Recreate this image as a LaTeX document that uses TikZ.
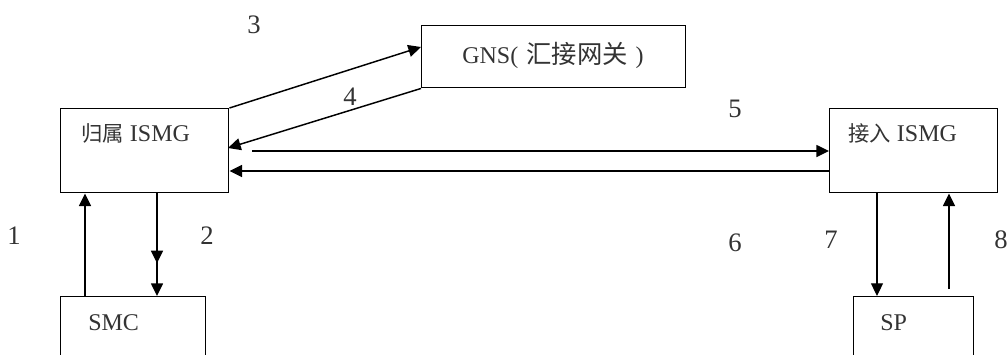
\documentclass[tikz,border=0pt]{standalone}
\usepackage{fontspec}
\setmainfont{Liberation Serif}
\newfontfamily\cjk{Noto Sans CJK SC}
\usetikzlibrary{arrows.meta}
\begin{document}
\begin{tikzpicture}[x=0.75pt,y=-0.75pt,
  box/.style={draw,line width=1.1pt,inner sep=0pt,anchor=north west},
  conn/.style={line width=1.1pt,-{Triangle[length=9.5pt,width=9pt]}},
  txt/.style={font=\fontsize{18pt}{20pt}\selectfont,text=black!80,inner sep=0pt},
  num/.style={font=\fontsize{20pt}{22pt}\selectfont,text=black!80,inner sep=0pt}]
\useasboundingbox (0,0) rectangle (1007,354);
% boxes
\node[box,minimum width=168*0.75pt,minimum height=84*0.75pt] (home) at (60,108) {};
\node[box,minimum width=264*0.75pt,minimum height=62*0.75pt] (gns) at (421,25) {};
\node[box,minimum width=168*0.75pt,minimum height=84*0.75pt] (acc) at (829,108) {};
\node[box,minimum width=145*0.75pt,minimum height=90*0.75pt] (smc) at (60,296) {};
\node[box,minimum width=120*0.75pt,minimum height=90*0.75pt] (sp) at (853,296) {};
% texts
\node[txt,anchor=west] (thome) at (81,133) {{\cjk\fontsize{16pt}{18pt}\selectfont 归属} ISMG};
\node[txt,anchor=west] (tacc) at (848,133) {{\cjk\fontsize{16pt}{18pt}\selectfont 接入} ISMG};
\node[txt] (tgns) at (553,55) {GNS(\hspace{6pt}{\cjk\fontsize{19pt}{20pt}\selectfont 汇接网关}\hspace{6pt})};
\node[txt,anchor=west] (tsmc) at (88,323) {SMC};
\node[txt,anchor=west] (tsp) at (880,323) {SP};
% labels
\node[num] (n1) at (14,236) {1};
\node[num] (n2) at (207,236) {2};
\node[num] (n3) at (254,25) {3};
\node[num] (n4) at (350,97) {4};
\node[num] (n5) at (735,109) {5};
\node[num] (n6) at (735,243) {6};
\node[num] (n7) at (831,240) {7};
\node[num] (n8) at (1001,240) {8};
% connectors
\coordinate (s5) at (252,151);
\draw[conn] (home.north east) -- (gns.west |- 0,47);
\draw[conn] (gns.south west) -- (228,148);
\draw[conn] (s5) -- (acc.west |- s5);
\draw[conn] (acc.west |- 0,171) -- (home.east |- 0,171);
\draw[conn] (smc.north -| 85,0) -- (home.south -| 85,0);
\draw[line width=1.1pt,-{Triangle[length=9.5pt,width=9pt,sep=15pt]Triangle[length=9.5pt,width=9pt]}] (home.south -| 157,0) -- (smc.north -| 157,0);
\draw[line width=0.8pt,-{Triangle[length=9.5pt,width=9pt]}] (acc.south -| 877,0) -- (sp.north -| 877,0);
\draw[conn] (949,289) -- (acc.south -| 949,0);
\end{tikzpicture}
\end{document}
